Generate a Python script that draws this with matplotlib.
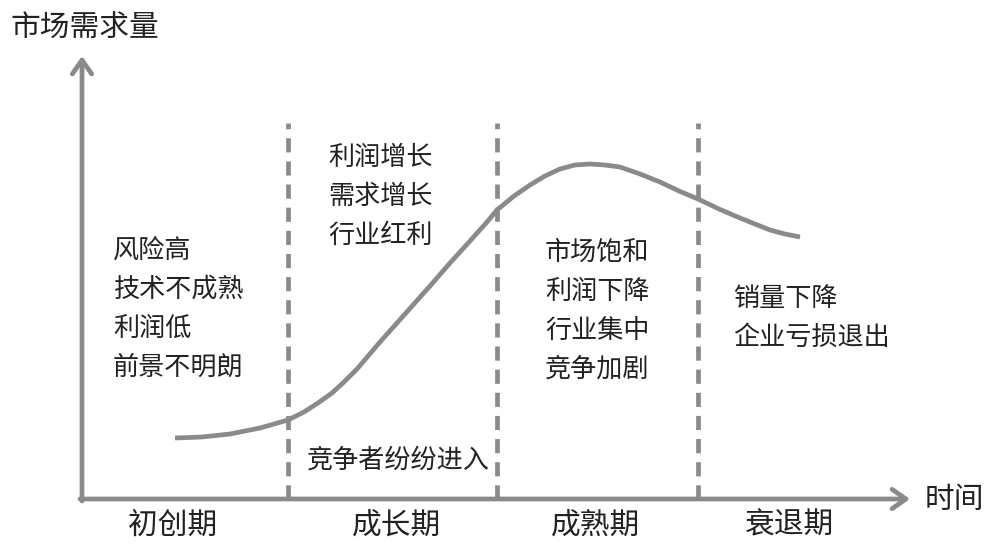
import matplotlib
matplotlib.use("Agg")
import matplotlib.pyplot as plt

plt.rcParams['font.family'] = ['Noto Sans CJK SC', 'DejaVu Sans']

# ---- data (time units along x, demand units along y) ----
curve_t = [93, 120, 148, 178, 206, 222, 236, 250, 262, 275, 298, 323, 348, 368, 388, 405, 415,
           432, 448, 463, 478, 493, 508, 523, 538, 558, 578, 597, 616, 637, 658, 673, 688, 703, 718]
curve_d = [61, 62, 65, 71, 79, 87, 96, 106, 117, 130, 157, 185, 213, 236, 258, 277, 289,
           303, 314, 323, 330, 334, 335, 334, 332, 325, 317, 308, 300, 290, 281, 275, 269, 265, 262]

boundaries = [206, 415, 616]
phase_names = ["初创期", "成长期", "成熟期", "衰退期"]
phase_centers = [91, 315, 514, 708]

notes = [
    (31, ["风险高", "技术不成熟", "利润低", "前景不明朗"], 249),
    (246, ["利润增长", "需求增长", "行业红利"], 342),
    (463, ["市场饱和", "利润下降", "行业集中", "竞争加剧"], 247),
    (651, ["销量下降", "企业亏损退出"], 201),
    (225, ["竞争者纷纷进入"], 39),
]

y_label = "市场需求量"
x_label = "时间"

gray = "#8a8a8a"
txt = "#222222"

fig = plt.figure(figsize=(10, 5.52), dpi=100)
ax = fig.add_axes([0, 0, 1, 1])
ax.set_xlim(-82, 918)
ax.set_ylim(-53, 499)
ax.axis("off")

# axes with open arrowheads
ax.annotate("", xy=(0, 443), xytext=(0, -2),
            arrowprops=dict(arrowstyle="->,head_length=1.0,head_width=0.7",
                            color=gray, lw=3.4, shrinkA=0, shrinkB=0))
ax.annotate("", xy=(828, 0), xytext=(-2, 0),
            arrowprops=dict(arrowstyle="->,head_length=1.0,head_width=0.7",
                            color=gray, lw=3.4, shrinkA=0, shrinkB=0))

# dashed boundaries
for b in boundaries:
    ax.plot([b, b], [0, 376], color=gray, lw=3.4, ls=(0, (3.0, 1.9)))

# curve
ax.plot(curve_t, curve_d, color=gray, lw=3.4, solid_capstyle="butt",
        solid_joinstyle="round")

# labels
ax.text(-72, 471, y_label, fontsize=21.4, color=txt, va="center", ha="left",
        fontweight="light")
ax.text(843, -1, x_label, fontsize=21.4, color=txt, va="center", ha="left",
        fontweight="light")
for c, n in zip(phase_centers, phase_names):
    ax.text(c, -26, n, fontsize=21.4, color=txt, va="center", ha="center",
            fontweight="light")

for x0, lines, ytop in notes:
    for i, s in enumerate(lines):
        ax.text(x0, ytop - i * 39, s, fontsize=18.8, color=txt, va="center",
                ha="left", fontweight="light")

fig.savefig("out.png", dpi=100)
